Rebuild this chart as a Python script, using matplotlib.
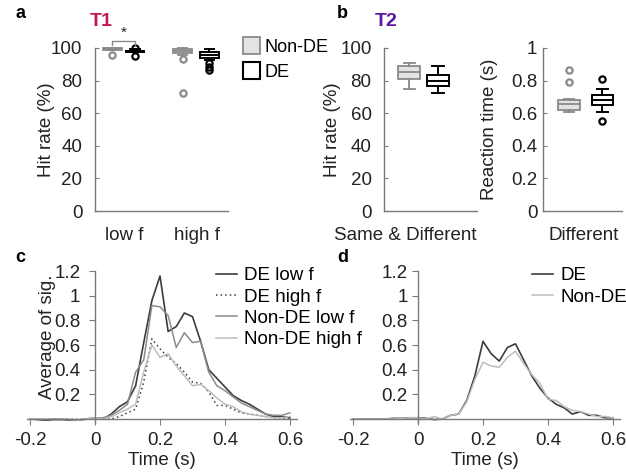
import matplotlib
matplotlib.use("Agg")
import matplotlib.pyplot as plt
from matplotlib.patches import Patch
from matplotlib.ticker import FormatStrFormatter

plt.rcParams['font.family'] = ['Liberation Sans', 'DejaVu Sans']
plt.rcParams['font.size'] = 12.5

# ---------------- data ----------------
groups_a = ["low f", "high f"]
# box stats: (whislo, q1, med, q3, whishi, fliers)
a_nonde_low = [98.5, 99.0, 99.6, 100.0, 100.0, [96.0]]
a_de_low = [97.5, 97.7, 98.0, 98.4, 99.6, [100.2, 94.8]]
a_nonde_high = [96.0, 96.8, 98.0, 99.5, 100.0, [93.5, 72.5]]
a_de_high = [92.5, 93.7, 95.5, 97.4, 99.2, [90.5, 88.5, 86.5]]

b_hit_nonde = [75.0, 81.0, 85.0, 89.0, 91.0, []]
b_hit_de = [72.5, 76.5, 79.5, 83.5, 89.0, []]
b_rt_nonde = [0.605, 0.62, 0.655, 0.68, 0.685, [0.79, 0.865]]
b_rt_de = [0.61, 0.65, 0.68, 0.71, 0.75, [0.81, 0.555]]

time_s = [-0.2, -0.175, -0.15, -0.125, -0.1, -0.075, -0.05, -0.025, 0.0,
          0.025, 0.05, 0.075, 0.1, 0.125, 0.15, 0.175, 0.2, 0.225, 0.25,
          0.275, 0.3, 0.325, 0.35, 0.375, 0.4, 0.425, 0.45, 0.475, 0.5,
          0.525, 0.55, 0.575, 0.6]
c_de_low = [0.0, -0.005, -0.01, -0.005, -0.005, -0.01, -0.01, 0.0, 0.01,
            0.0, 0.04, 0.10, 0.14, 0.27, 0.62, 0.96, 1.16, 0.71, 0.75, 0.86,
            0.83, 0.63, 0.40, 0.33, 0.26, 0.19, 0.15, 0.12, 0.08, 0.04,
            0.02, 0.02, 0.01]
c_de_high = [0.0, 0.0, 0.0, 0.0, 0.0, 0.0, -0.005, 0.0, 0.0,
             0.0, 0.0, 0.02, 0.05, 0.08, 0.30, 0.65, 0.57, 0.50, 0.45, 0.38,
             0.30, 0.29, 0.22, 0.11, 0.11, 0.08, 0.05, 0.04, 0.03, 0.02,
             0.01, 0.01, 0.0]
c_nonde_low = [0.0, 0.0, -0.005, 0.0, 0.0, -0.005, -0.005, 0.0, 0.01,
               0.01, 0.03, 0.07, 0.12, 0.38, 0.48, 0.92, 0.91, 0.84, 0.58,
               0.70, 0.62, 0.63, 0.38, 0.27, 0.23, 0.18, 0.13, 0.10, 0.07,
               0.04, 0.03, 0.03, 0.05]
c_nonde_high = [0.0, 0.0, 0.0, -0.005, 0.0, -0.005, -0.01, 0.0, 0.01,
                0.0, 0.02, 0.05, 0.08, 0.12, 0.38, 0.60, 0.50, 0.53, 0.43,
                0.35, 0.27, 0.28, 0.23, 0.17, 0.12, 0.10, 0.06, 0.04, 0.03,
                0.02, 0.01, 0.01, 0.02]
d_de = [0.0, 0.0, 0.0, 0.0, 0.0, 0.005, 0.005, 0.01, 0.01,
        0.005, -0.005, 0.0, 0.03, 0.04, 0.15, 0.35, 0.63, 0.53, 0.47, 0.58,
        0.61, 0.48, 0.35, 0.25, 0.17, 0.12, 0.09, 0.04, 0.06, 0.03, 0.03,
        0.01, 0.01]
d_nonde = [0.0, 0.0, 0.0, 0.0, 0.0, 0.0, 0.005, 0.01, 0.01,
           0.0, 0.02, 0.0, 0.03, 0.04, 0.14, 0.32, 0.46, 0.43, 0.42, 0.50,
           0.55, 0.45, 0.36, 0.29, 0.16, 0.15, 0.10, 0.07, 0.06, 0.04, 0.02,
           0.02, 0.01]

# ---------------- styling ----------------
GRAY_EDGE = '#8a8a8a'
GRAY_FILL = '#e3e3e3'
AX_COL = '#7a7a7a'
TXT = '#222222'

W, H = 626, 472
fig = plt.figure(figsize=(W / 100, H / 100), dpi=100)


def axes_px(left, top, right, bottom):
    return fig.add_axes([left / W, 1 - bottom / H, (right - left) / W, (bottom - top) / H])


def stat(v):
    return dict(whislo=v[0], q1=v[1], med=v[2], q3=v[3], whishi=v[4], fliers=v[5])


def draw_boxes(ax, stats, positions, width, kinds):
    for s, p, k in zip(stats, positions, kinds):
        if k == 'nonde':
            ec, fc, lw = GRAY_EDGE, GRAY_FILL, 1.3
        else:
            ec, fc, lw = 'black', 'white', 1.4
        ax.bxp([stat(s)], positions=[p], widths=width, patch_artist=True,
               showfliers=True,
               boxprops=dict(facecolor=fc, edgecolor=ec, linewidth=lw),
               medianprops=dict(color=ec, linewidth=lw),
               whiskerprops=dict(color=ec, linewidth=lw),
               capprops=dict(color=ec, linewidth=lw),
               capwidths=width * 0.5,
               flierprops=dict(marker='o', markersize=4.5, markerfacecolor='none',
                               markeredgecolor=ec, markeredgewidth=1.6),
               manage_ticks=False)
    for art in ax.get_children():
        try:
            art.set_clip_on(False)
        except Exception:
            pass


def style_box_axes(ax, pad):
    for sp in ['top', 'right']:
        ax.spines[sp].set_visible(False)
    for sp in ['left', 'bottom']:
        ax.spines[sp].set_color(AX_COL)
        ax.spines[sp].set_linewidth(1.0)
    ax.tick_params(axis='y', direction='in', length=3, color=AX_COL, labelcolor=TXT,
                   labelsize=13.5, pad=pad)
    ax.tick_params(axis='x', length=0, labelbottom=False)


# ---------------- panel a ----------------
axa = axes_px(95, 48, 228, 211)
axa.set_xlim(0, 1)
axa.set_ylim(0, 100)
draw_boxes(axa, [a_nonde_low, a_de_low, a_nonde_high, a_de_high],
           [0.13, 0.30, 0.66, 0.86], 0.14, ['nonde', 'de', 'nonde', 'de'])
style_box_axes(axa, 9)
axa.set_yticks([0, 20, 40, 60, 80, 100])
axa.set_ylabel('Hit rate (%)', fontsize=13.5, color=TXT)
axa.yaxis.set_label_coords(-0.30, 0.5, transform=axa.transAxes)
for gx, g in zip([0.22, 0.77], groups_a):
    axa.text(gx, -0.15, g, transform=axa.transAxes, ha='center', va='center',
             fontsize=13.5, color=TXT)
# significance bracket
axa.plot([0.13, 0.13, 0.30, 0.30], [102, 104.5, 104.5, 102], color=GRAY_EDGE, lw=1.0,
         clip_on=False)
axa.text(0.215, 105, '*', ha='center', va='bottom', fontsize=11, color=TXT)
fig.text(90 / W, 1 - 22 / H, 'T1', color='#c2185b', fontsize=14, fontweight='bold',
         ha='left', va='center')
# legend
leg = axa.legend(handles=[Patch(facecolor=GRAY_FILL, edgecolor=GRAY_EDGE, lw=1.3, label='Non-DE'),
                          Patch(facecolor='white', edgecolor='black', lw=1.5, label='DE')],
                 loc='upper left', bbox_to_anchor=(234 / W, 1 - 28 / H),
                 bbox_transform=fig.transFigure, frameon=False, fontsize=13,
                 handlelength=0.95, handleheight=1.1, handletextpad=0.25,
                 borderpad=0, labelspacing=0.35)

# ---------------- panel b ----------------
axb1 = axes_px(384, 48, 477, 211)
axb1.set_xlim(0, 1)
axb1.set_ylim(0, 100)
draw_boxes(axb1, [b_hit_nonde, b_hit_de], [0.27, 0.58], 0.24, ['nonde', 'de'])
style_box_axes(axb1, 9)
axb1.set_yticks([0, 20, 40, 60, 80, 100])
axb1.set_ylabel('Hit rate (%)', fontsize=13.5, color=TXT)
axb1.yaxis.set_label_coords(-0.46, 0.5, transform=axb1.transAxes)
fig.text(405 / W, 1 - 236 / H, 'Same & Different', ha='center', va='center',
         fontsize=13.5, color=TXT)

axb2 = axes_px(543, 48, 622, 211)
axb2.set_xlim(0, 1)
axb2.set_ylim(0, 1)
draw_boxes(axb2, [b_rt_nonde, b_rt_de], [0.33, 0.75], 0.27, ['nonde', 'de'])
style_box_axes(axb2, 4)
axb2.set_yticks([0, 0.2, 0.4, 0.6, 0.8, 1.0])
axb2.yaxis.set_major_formatter(FormatStrFormatter('%g'))
axb2.set_ylabel('Reaction time (s)', fontsize=13.5, color=TXT)
axb2.yaxis.set_label_coords(-0.575, 0.5, transform=axb2.transAxes)
fig.text(584 / W, 1 - 236 / H, 'Different', ha='center', va='center',
         fontsize=13.5, color=TXT)
fig.text(375 / W, 1 - 22 / H, 'T2', color='#5a1aa0', fontsize=14, fontweight='bold',
         ha='left', va='center')

# ---------------- panel c / d ----------------
def style_time_axes(ax, ypad):
    ax.set_xlim(-0.21, 0.62)
    ax.set_ylim(-0.03, 1.22)
    for sp in ['top', 'right']:
        ax.spines[sp].set_visible(False)
    ax.spines['left'].set_position(('data', 0))
    ax.spines['left'].set_bounds(-0.03, 1.2)
    ax.spines['bottom'].set_position(('data', 0))
    for sp in ['left', 'bottom']:
        ax.spines[sp].set_color(AX_COL)
        ax.spines[sp].set_linewidth(1.0)
    ax.set_xticks([-0.2, 0, 0.2, 0.4, 0.6])
    ax.set_yticks([0.2, 0.4, 0.6, 0.8, 1.0, 1.2])
    ax.xaxis.set_major_formatter(FormatStrFormatter('%g'))
    ax.yaxis.set_major_formatter(FormatStrFormatter('%g'))
    ax.tick_params(axis='both', direction='out', length=4.5, color=AX_COL,
                   labelcolor=TXT, labelsize=13.5)
    ax.tick_params(axis='y', pad=ypad)
    ax.tick_params(axis='x', pad=5)
    ax.set_xlabel('Time (s)', fontsize=13.5, color=TXT, labelpad=2)


axc = axes_px(26.75, 268.6, 296.5, 422.7)
lc = []
lc += axc.plot(time_s, c_de_low, color='#3c3c3c', lw=1.2, label='DE low f')
lc += axc.plot(time_s, c_de_high, color='#3c3c3c', lw=1.1, ls=(0, (1, 2)), label='DE high f')
lc += axc.plot(time_s, c_nonde_low, color='#8c8c8c', lw=1.1, label='Non-DE low f')
lc += axc.plot(time_s, c_nonde_high, color='#bdbdbd', lw=1.1, label='Non-DE high f')
style_time_axes(axc, 6)
axc.set_ylabel('Average of sig.', fontsize=13.5, color=TXT)
axc.yaxis.set_label_coords(0.11, 0.56, transform=axc.transAxes)

axd = axes_px(349.75, 268.6, 619.5, 422.7)
ld = []
ld += axd.plot(time_s, d_de, color='#3c3c3c', lw=1.2, label='DE')
ld += axd.plot(time_s, d_nonde, color='#bdbdbd', lw=1.1, label='Non-DE')
style_time_axes(axd, 3)

fig.legend(handles=lc, loc='upper left', bbox_to_anchor=(207 / W, 1 - 258 / H),
           bbox_transform=fig.transFigure, frameon=False, fontsize=13.5,
           handlelength=1.1, handletextpad=0.4, borderpad=0, labelspacing=0.22)
fig.legend(handles=ld, loc='upper left', bbox_to_anchor=(523 / W, 1 - 258 / H),
           bbox_transform=fig.transFigure, frameon=False, fontsize=13.5,
           handlelength=1.1, handletextpad=0.4, borderpad=0, labelspacing=0.22)

# panel letters
for lx, ly, s in [(15, 14, 'a'), (337, 14, 'b'), (15, 258, 'c'), (337, 258, 'd')]:
    fig.text(lx / W, 1 - ly / H, s, fontsize=13, fontweight='bold', ha='left',
             va='center', color='black')

fig.savefig('out.png', dpi=100)
